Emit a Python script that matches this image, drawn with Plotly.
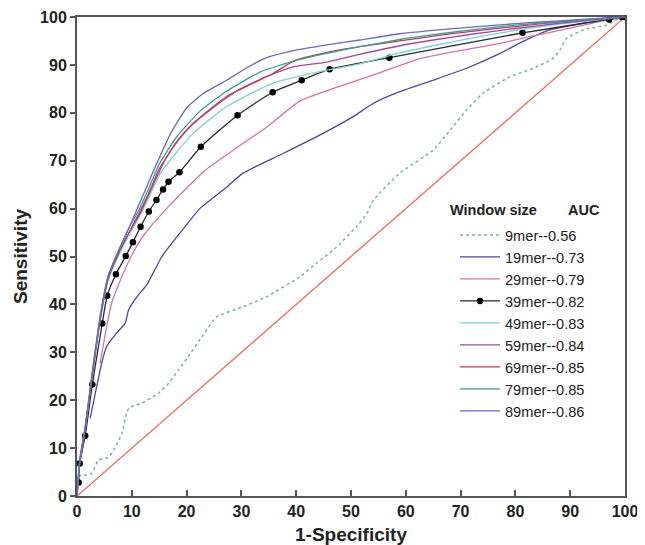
import plotly.graph_objects as go

# ---- data ----
x9 = [0.2, 2.7, 3.9, 5.7, 6.9, 8.2, 9.1, 9.6, 11.8, 14.8, 16.7, 18.5, 20.3, 22.8, 25.5, 30.3, 34.6, 40.7, 43.7, 46.8, 51.0, 52.9, 54.1, 58.9, 65.0, 68.1, 71.1, 74.1, 79.0, 83.3, 86.9, 88.1, 89.3, 92.4, 96.6, 99.0, 100]
y9 = [4.2, 4.7, 7.5, 8.0, 10.0, 13.1, 17.5, 18.5, 19.4, 21.4, 23.5, 26.3, 29.1, 33.3, 37.4, 39.5, 41.6, 45.8, 48.6, 51.4, 56.2, 59.0, 61.8, 67.4, 72.2, 76.4, 80.6, 84.1, 87.5, 89.3, 91.4, 93.1, 95.5, 97.3, 98.3, 99.7, 100]

x19 = [2.4, 4.5, 5.4, 7.2, 8.8, 9.4, 11.2, 12.7, 15.5, 19.7, 22.4, 27.0, 30.3, 37.6, 44.9, 50.4, 54.1, 58.9, 65.0, 71.1, 77.2, 81.4, 86.3, 92.4, 96.0, 100]
y19 = [16.2, 27.7, 31.2, 34.0, 36.1, 38.8, 42.0, 44.0, 50.0, 56.2, 60.0, 64.2, 67.4, 71.5, 75.7, 79.2, 82.0, 84.4, 86.8, 89.3, 92.4, 94.9, 97.3, 98.7, 99.4, 100]

x29 = [4.2, 5.4, 6.3, 8.2, 10.0, 12.4, 16.7, 20.3, 23.4, 28.5, 34.6, 40.7, 46.8, 54.1, 62.6, 70.0, 77.2, 83.0, 89.3, 95.0, 100]
y29 = [27.7, 35.3, 40.2, 45.8, 50.3, 54.8, 60.4, 64.6, 68.0, 72.2, 77.0, 82.5, 85.1, 87.9, 91.3, 93.0, 94.5, 96.0, 97.5, 99.0, 100]

x39 = [0.3, 0.5, 1.5, 2.8, 4.6, 5.5, 7.1, 8.9, 10.2, 11.6, 13.1, 14.5, 15.7, 16.7, 18.7, 22.6, 29.3, 35.7, 41.0, 46.1, 57.0, 81.3, 97.1, 99.4, 100]
y39 = [2.8, 6.8, 12.6, 23.3, 36.0, 41.8, 46.3, 50.1, 53.0, 56.2, 59.4, 61.8, 64.0, 65.6, 67.6, 72.9, 79.5, 84.3, 86.8, 89.1, 91.5, 96.7, 99.5, 100, 100]

x49 = [0, 0.5, 1.5, 2.7, 4.3, 5.7, 7.5, 9.5, 11.2, 13.0, 15.1, 18.0, 21.2, 27.3, 35.8, 45.6, 51.6, 58.9, 65.0, 72.0, 80.0, 88.0, 95.0, 100]
y49 = [0, 7.0, 14.0, 24.5, 37.0, 45.0, 50.0, 54.5, 58.0, 62.0, 67.2, 71.5, 75.7, 81.3, 86.2, 88.9, 90.2, 92.5, 94.0, 95.6, 97.2, 98.5, 99.4, 100]

x59 = [0, 0.5, 1.5, 2.7, 4.3, 5.7, 7.5, 9.5, 11.5, 13.0, 15.1, 18.0, 21.2, 27.3, 34.6, 39.5, 45.6, 51.6, 58.9, 65.0, 72.0, 80.0, 88.0, 95.0, 100]
y59 = [0, 7.0, 14.0, 24.5, 37.5, 45.5, 50.5, 55.0, 59.5, 63.0, 68.5, 73.5, 77.8, 83.4, 87.6, 89.6, 90.6, 92.2, 94.0, 95.2, 96.4, 97.6, 98.7, 99.5, 100]

x69 = [0, 0.5, 1.5, 2.7, 4.3, 5.7, 7.5, 9.5, 11.5, 13.9, 16.0, 18.2, 21.0, 24.3, 29.1, 35.8, 39.5, 45.6, 51.6, 58.9, 65.0, 72.0, 80.0, 88.0, 95.0, 100]
y69 = [0, 7.0, 14.0, 24.5, 37.5, 45.5, 50.5, 55.0, 59.0, 65.0, 70.0, 74.0, 77.5, 80.6, 84.5, 88.2, 90.8, 92.6, 93.8, 95.0, 96.0, 97.0, 98.0, 99.0, 99.6, 100]

x79 = [0, 0.5, 1.5, 2.7, 4.3, 5.7, 7.5, 9.5, 11.2, 13.0, 15.1, 18.2, 22.4, 27.3, 33.4, 39.5, 45.6, 51.6, 58.9, 65.0, 72.0, 80.0, 88.0, 95.0, 100]
y79 = [0, 7.5, 14.5, 25.0, 38.0, 46.0, 51.0, 56.0, 59.5, 64.0, 69.5, 75.0, 80.3, 84.5, 88.5, 90.8, 92.4, 93.8, 95.3, 96.3, 97.3, 98.3, 99.0, 99.6, 100]

x89 = [0, 0.5, 1.5, 2.7, 4.3, 5.7, 7.5, 9.5, 11.0, 12.5, 14.0, 17.0, 20.0, 23.0, 27.3, 31.0, 34.6, 39.5, 45.6, 51.6, 58.9, 65.0, 72.0, 80.0, 88.0, 95.0, 100]
y89 = [0, 7.5, 14.5, 25.0, 38.0, 46.0, 51.0, 56.0, 60.0, 64.0, 68.0, 75.5, 81.0, 84.0, 86.8, 89.4, 91.5, 93.0, 94.2, 95.2, 96.5, 97.2, 97.9, 98.6, 99.2, 99.7, 100]

x_diag = [0, 100]
y_diag = [0, 100]

names = ["9mer--0.56", "19mer--0.73", "29mer--0.79", "39mer--0.82", "49mer--0.83",
         "59mer--0.84", "69mer--0.85", "79mer--0.85", "89mer--0.86"]
legend_title_left = "Window size"
legend_title_right = "AUC"
xtick_vals = [0, 10, 20, 30, 40, 50, 60, 70, 80, 90, 100]
ytick_vals = [0, 10, 20, 30, 40, 50, 60, 70, 80, 90, 100]

# ---- figure ----
FONT = "Liberation Sans, Arial, sans-serif"
fig = go.Figure()

fig.add_trace(go.Scatter(x=x_diag, y=y_diag, mode="lines", showlegend=False,
                         line=dict(color="#ee6a5a", width=1.3)))

series = [
    (x9, y9, "#79b594", "dot"),
    (x19, y19, "#4848a0", "solid"),
    (x29, y29, "#d672a8", "solid"),
    (x39, y39, "#2a2a2a", "solid"),
    (x49, y49, "#7fd0d2", "solid"),
    (x59, y59, "#a04aa4", "solid"),
    (x69, y69, "#b8404e", "solid"),
    (x79, y79, "#3a9c9c", "solid"),
    (x89, y89, "#6a6ac0", "solid"),
]
for (xs, ys, col, dash), nm in zip(series, names):
    if nm.startswith("39mer"):
        fig.add_trace(go.Scatter(x=xs, y=ys, name=nm, mode="lines+markers",
                                 line=dict(color=col, width=1.3, shape="spline", smoothing=0.5),
                                 marker=dict(color="#000000", size=6.5)))
    else:
        fig.add_trace(go.Scatter(x=xs, y=ys, name=nm, mode="lines",
                                 line=dict(color=col, width=1.5 if dash == "dot" else 1.3, dash=dash,
                                           shape="spline", smoothing=0.5)))

fig.add_annotation(xref="paper", yref="paper", x=(448 - 77) / 548, y=(496 - 210) / 479,
                   xanchor="left", yanchor="middle", showarrow=False,
                   text="<b>" + legend_title_left + "</b>",
                   font=dict(family=FONT, size=14.5, color="#222222"))
fig.add_annotation(xref="paper", yref="paper", x=(566 - 77) / 548, y=(496 - 210) / 479,
                   xanchor="left", yanchor="middle", showarrow=False,
                   text="<b>" + legend_title_right + "</b>",
                   font=dict(family=FONT, size=14.5, color="#222222"))

# page body has an 8px margin: the figure is drawn 8px right/down of the page corner
fig.update_layout(
    width=637, height=537,
    margin=dict(l=69, r=20, t=9, b=49, autoexpand=False),
    paper_bgcolor="white", plot_bgcolor="white",
    font=dict(family=FONT, color="#222222"),
    legend=dict(
        x=(455 - 77) / 548, y=(496 - 219) / 479, xanchor="left", yanchor="top",
        bgcolor="rgba(0,0,0,0)",
        font=dict(family=FONT, size=14.6, color="#222222"),
        itemwidth=40,
        tracegroupgap=0,
    ),
    xaxis=dict(
        range=[0, 100], tickvals=xtick_vals, ticks="inside", ticklen=6, tickwidth=1.5,
        tickcolor="#555555", showline=True, linecolor="#555555", linewidth=2, mirror=True,
        showgrid=False, zeroline=False, automargin=False,
        tickfont=dict(family=FONT, size=16, color="#222222", weight="bold"),
        title=dict(text="<b>1-Specificity</b>", font=dict(family=FONT, size=19, color="#222222"), standoff=8),
    ),
    yaxis=dict(
        range=[0, 100], tickvals=ytick_vals, ticks="outside", ticklen=5, tickwidth=1.5,
        tickcolor="#555555", showline=True, linecolor="#555555", linewidth=2, mirror=True,
        showgrid=False, zeroline=False, automargin=False,
        tickfont=dict(family=FONT, size=16, color="#222222", weight="bold"),
        title=dict(text="<b>Sensitivity</b>", font=dict(family=FONT, size=19, color="#222222"), standoff=7),
    ),
)

fig.write_html("out.html")
